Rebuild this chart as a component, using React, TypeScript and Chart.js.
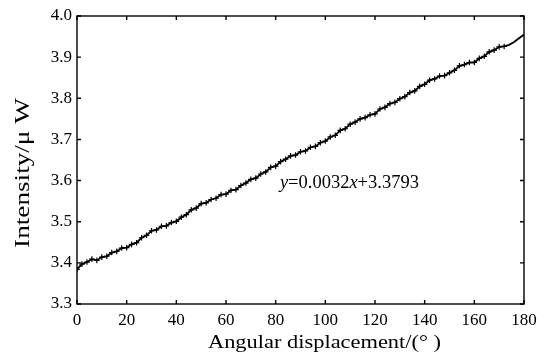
import React, { useEffect, useRef } from 'react';
import { Chart, registerables } from 'chart.js';

Chart.register(...registerables);

const angles = [
  0, 2, 4, 6, 8, 10, 12, 14, 16, 18, 20, 22, 24, 26, 28, 30, 32, 34, 36, 38,
  40, 42, 44, 46, 48, 50, 52, 54, 56, 58, 60, 62, 64, 66, 68, 70, 72, 74, 76, 78,
  80, 82, 84, 86, 88, 90, 92, 94, 96, 98, 100, 102, 104, 106, 108, 110, 112, 114, 116, 118,
  120, 122, 124, 126, 128, 130, 132, 134, 136, 138, 140, 142, 144, 146, 148, 150, 152, 154, 156, 158,
  160, 162, 164, 166, 168, 170, 172, 174, 176, 178, 180,
];

const intensity = [
  3.384, 3.397, 3.402, 3.409, 3.406, 3.414, 3.416, 3.425, 3.428, 3.436,
  3.437, 3.445, 3.449, 3.461, 3.467, 3.478, 3.48, 3.489, 3.49, 3.498,
  3.501, 3.511, 3.517, 3.529, 3.533, 3.544, 3.546, 3.554, 3.557, 3.566,
  3.567, 3.576, 3.578, 3.588, 3.594, 3.603, 3.606, 3.616, 3.621, 3.632,
  3.635, 3.646, 3.652, 3.66, 3.662, 3.67, 3.672, 3.681, 3.683, 3.692,
  3.696, 3.706, 3.71, 3.722, 3.726, 3.737, 3.742, 3.75, 3.753, 3.76,
  3.762, 3.774, 3.778, 3.787, 3.79, 3.799, 3.804, 3.814, 3.818, 3.829,
  3.834, 3.844, 3.847, 3.854, 3.855, 3.862, 3.868, 3.879, 3.882, 3.887,
  3.887, 3.897, 3.902, 3.913, 3.917, 3.925, 3.926, 3.93, 3.937, 3.946, 3.955,
];

// markers are shown up to this angle, then the curve continues as a plain line
const lastMarkedAngle = 172;

const xTicks = [0, 20, 40, 60, 80, 100, 120, 140, 160, 180];
const yTicks = [3.3, 3.4, 3.5, 3.6, 3.7, 3.8, 3.9, 4.0];

const xTitle = 'Angular displacement/(° )';
const yTitle = 'Intensity/μ W';
const fitParts = [
  { t: 'y', italic: true },
  { t: '=0.0032', italic: false },
  { t: 'x', italic: true },
  { t: '+3.3793', italic: false },
];
const fitAnchor = { x: 81.7, y: 3.594 };

const FONT = '"Liberation Serif", "Times New Roman", serif';

const framePlugin = {
  id: 'frame',
  afterDraw(chart: any) {
    const { ctx, chartArea: a } = chart;
    const xs = chart.scales.x;
    const ys = chart.scales.y;
    ctx.save();
    ctx.strokeStyle = '#000';
    ctx.lineWidth = 1.4;
    ctx.strokeRect(a.left, a.top, a.right - a.left, a.bottom - a.top);
    const L = 4;
    ctx.beginPath();
    xTicks.forEach((v) => {
      const px = xs.getPixelForValue(v);
      ctx.moveTo(px, a.bottom);
      ctx.lineTo(px, a.bottom - L);
      ctx.moveTo(px, a.top);
      ctx.lineTo(px, a.top + L);
    });
    yTicks.forEach((v) => {
      const py = ys.getPixelForValue(v);
      ctx.moveTo(a.left, py);
      ctx.lineTo(a.left + L, py);
      ctx.moveTo(a.right, py);
      ctx.lineTo(a.right - L, py);
    });
    ctx.stroke();

    ctx.fillStyle = '#000';
    ctx.textBaseline = 'middle';
    ctx.textAlign = 'center';

    // x title, stretched to the reference's width
    ctx.font = `19px ${FONT}`;
    ctx.save();
    ctx.translate((a.left + a.right) / 2 + 24, a.bottom + 39);
    ctx.scale(1.18, 1);
    ctx.fillText(xTitle, 0, 0);
    ctx.restore();

    // y title, stretched along the text direction
    ctx.font = `20px ${FONT}`;
    ctx.save();
    ctx.translate(a.left - 53, (a.top + a.bottom) / 2 + 13);
    ctx.rotate(-Math.PI / 2);
    ctx.scale(1.36, 1);
    ctx.fillText(yTitle, 0, 0);
    ctx.restore();

    // fitted equation
    let fx = xs.getPixelForValue(fitAnchor.x);
    const fy = ys.getPixelForValue(fitAnchor.y);
    ctx.textAlign = 'left';
    fitParts.forEach((p) => {
      ctx.font = `${p.italic ? 'italic ' : ''}18.5px ${FONT}`;
      ctx.fillText(p.t, fx, fy);
      fx += ctx.measureText(p.t).width;
    });
    ctx.restore();
  },
};

export default function App() {
  const ref = useRef<HTMLCanvasElement>(null);

  useEffect(() => {
    document.body.style.margin = '0';
    const canvas = ref.current;
    if (!canvas) return;
    const points = angles.map((a, i) => ({ x: a, y: intensity[i] }));
    const chart = new Chart(canvas, {
      type: 'line',
      data: {
        datasets: [
          {
            data: points,
            borderColor: '#000',
            backgroundColor: '#000',
            borderWidth: 1.8,
            pointStyle: 'cross',
            pointRadius: angles.map((a) => (a <= lastMarkedAngle ? 2.8 : 0)),
            pointBorderWidth: 1.2,
            pointBorderColor: '#000',
            tension: 0,
            fill: false,
          },
        ],
      },
      options: {
        animation: false,
        responsive: true,
        maintainAspectRatio: false,
        layout: { padding: { top: 16, right: 21, left: 0, bottom: 0 } },
        plugins: {
          legend: { display: false },
          tooltip: { enabled: false },
        },
        scales: {
          x: {
            type: 'linear',
            min: 0,
            max: 180,
            grid: { display: false, drawTicks: false },
            border: { display: false },
            ticks: {
              stepSize: 20,
              padding: 6,
              color: '#000',
              maxRotation: 0,
              font: { family: FONT, size: 17 },
            },
            afterFit: (s: any) => {
              s.height = 52;
            },
          },
          y: {
            type: 'linear',
            min: 3.3,
            max: 4.0,
            grid: { display: false, drawTicks: false },
            border: { display: false },
            ticks: {
              stepSize: 0.1,
              padding: 5,
              color: '#000',
              font: { family: FONT, size: 17 },
              callback: (v: any) => Number(v).toFixed(1),
            },
            afterFit: (s: any) => {
              s.width = 77;
            },
          },
        },
      },
      plugins: [framePlugin],
    });
    return () => chart.destroy();
  }, []);

  return (
    <div style={{ width: 545, height: 356, position: 'relative' }}>
      <canvas ref={ref} />
    </div>
  );
}
